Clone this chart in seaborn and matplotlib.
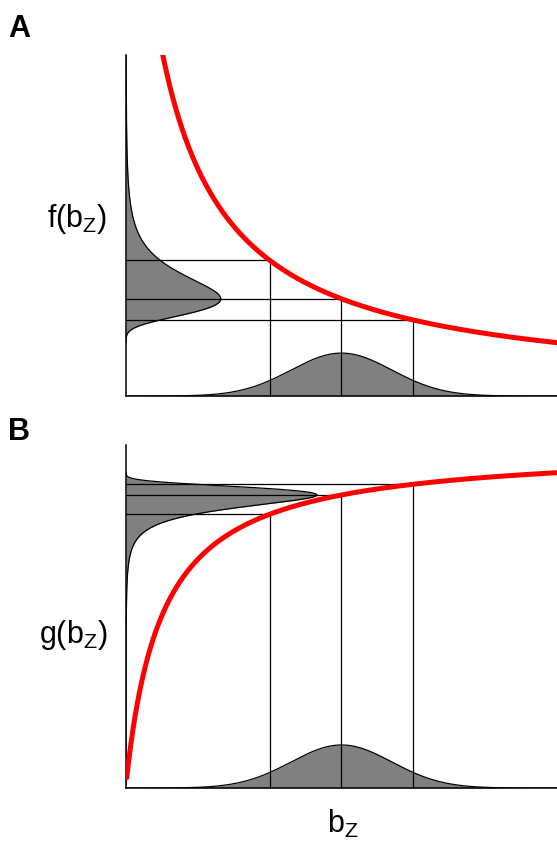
import numpy as np
import matplotlib
matplotlib.use('Agg')
import matplotlib.pyplot as plt
import seaborn as sns

# values (x runs 0..6)
marker_x = [2, 3, 4]
gauss_mean = 3.0
gauss_sd = 0.7

# panel A: decreasing hyperbola f(b) = 1/(b + shift) + offset
f_shift = 0.45
f_offset = 0.009
ylim_a = 1.048
bump_a = 0.132      # height of bottom bell
side_a = 1.32       # width of left bell

# panel B: increasing hyperbola g(b) = top - 1/(b + shift)
g_top = 2.021
g_shift = 0.5
ylim_b = 2.031
bump_b = 0.255
side_b = 2.66


def f_curve(b):
    return 1.0 / (b + f_shift) + f_offset


def g_curve(b):
    return g_top - 1.0 / (b + g_shift)


def bell(b):
    return np.exp(-(b - gauss_mean) ** 2 / (2 * gauss_sd ** 2))


sns.set_style('white')
plt.rcParams['font.family'] = ['Liberation Sans', 'DejaVu Sans']
plt.rcParams['mathtext.fontset'] = 'custom'
plt.rcParams['mathtext.rm'] = 'Liberation Sans'
plt.rcParams['text.color'] = 'black'

fig = plt.figure(figsize=(5.57, 8.43), dpi=100)
axA = fig.add_axes([0.2262, 0.5302, 0.7738, 0.4045])
axB = fig.add_axes([0.2262, 0.0652, 0.7738, 0.4069])


def draw_panel(ax, curve, ytop, bump_h, side_w, x_start):
    xs = np.linspace(0, 6, 800)
    # bottom distribution
    ax.fill_between(xs, 0, bump_h * bell(xs), color='#808080', lw=0, zorder=1)
    sns.lineplot(x=xs, y=bump_h * bell(xs), color='black', lw=0.9, ax=ax, zorder=2)
    # left distribution: bell values mapped through the curve
    t = np.linspace(0, 6, 3000)
    yy = curve(t)
    ww = side_w * bell(t)
    ax.fill_betweenx(yy, 0, ww, color='#808080', lw=0, zorder=1)
    sns.lineplot(x=ww, y=yy, sort=False, estimator=None, color='black', lw=0.9, ax=ax, zorder=2)
    # guide lines
    for m in marker_x:
        ax.plot([0, m], [curve(m), curve(m)], color='black', lw=0.9, zorder=3)
        ax.plot([m, m], [0, curve(m)], color='black', lw=0.9, zorder=3)
    # transfer curve
    xc = np.linspace(x_start, 6, 800)
    sns.lineplot(x=xc, y=curve(xc), color='red', lw=3.6, ax=ax, zorder=5)
    ax.set_xlim(0, 6)
    ax.set_ylim(0, ytop)
    ax.set_xticks([])
    ax.set_yticks([])
    for s in ['top', 'right']:
        ax.spines[s].set_visible(False)
    for s in ['left', 'bottom']:
        ax.spines[s].set_color('black')
        ax.spines[s].set_linewidth(1.1)


draw_panel(axA, f_curve, ylim_a, bump_a, side_a, 0.3)
draw_panel(axB, g_curve, ylim_b, bump_b, side_b, 0.01)

fig.text(0.015, 0.983, 'A', fontsize=22, fontweight='bold', va='top', ha='left', color='black')
fig.text(0.015, 0.505, 'B', fontsize=22, fontweight='bold', va='top', ha='left', color='black')
fig.text(0.193, 0.740, r'$\mathregular{f(b_Z)}$', fontsize=22, ha='right', va='center', color='black')
fig.text(0.193, 0.247, r'$\mathregular{g(b_Z)}$', fontsize=22, ha='right', va='center', color='black')
fig.text(0.616, 0.012, r'$\mathregular{b_Z}$', fontsize=22, ha='center', va='baseline', color='black')

plt.savefig('out.png', dpi=100)
plt.close()
